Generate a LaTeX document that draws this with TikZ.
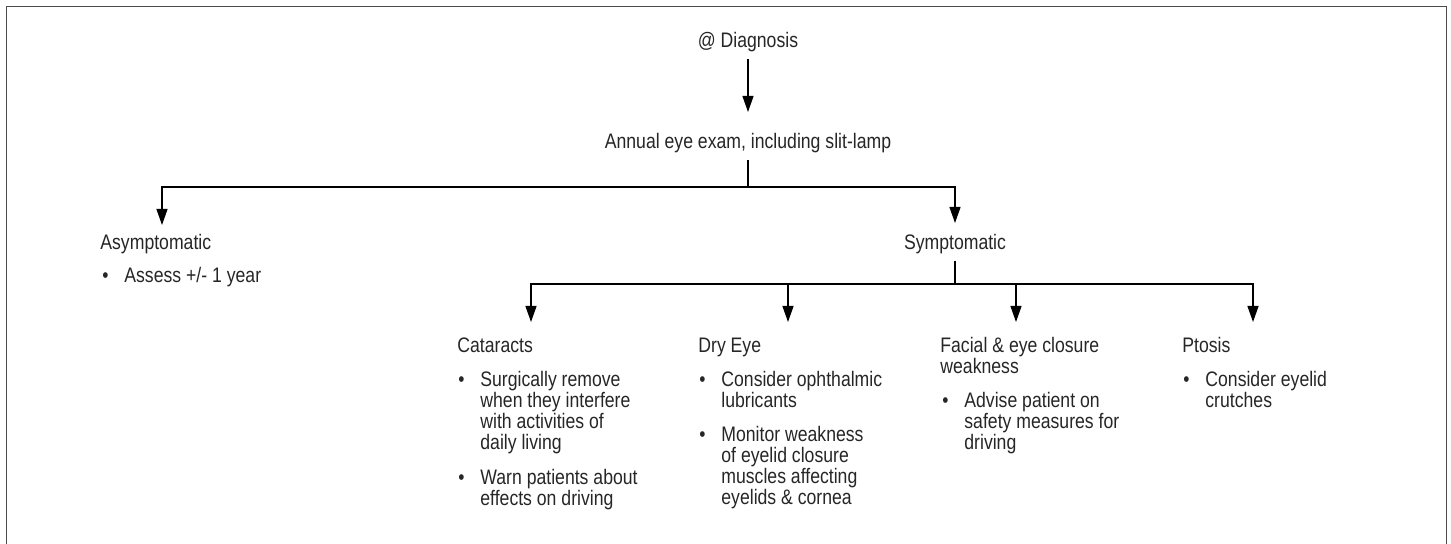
\documentclass[tikz,border=0pt]{standalone}
\usepackage{fontspec}
\setmainfont{Liberation Sans}[FakeStretch=0.84]
\usetikzlibrary{arrows.meta,positioning}
\newcommand{\dotmark}{\llap{\makebox[11pt][l]{\textbullet}}}

\begin{document}
\begin{tikzpicture}[x=0.5pt,y=-0.5pt]
      \tikzstyle{txt}=[inner xsep=0pt, inner ysep=3pt, align=left, anchor=base west, font=\fontsize{10.5}{10.5}\selectfont, text=black!85];
      \tikzstyle{con}=[line width=0.6pt, -{Triangle[length=8pt,width=5.5pt]}];
      \tikzstyle{ln}=[line width=0.6pt];

      \useasboundingbox (0,0) rectangle (1451,544);
      \draw [line width=0.8pt, black!70] (6.5,544) -- (6.5,6.5) -- (1446.5,6.5) -- (1446.5,544);

      % base of a block = baseline of its last line
      \node (diag) at (748,48)[txt, anchor=base]{@ Diagnosis};
      \node (exam) at (748,149)[txt, anchor=base]{Annual eye exam, including slit-lamp};
      \node (asym) at (100,250)[txt]{Asymptomatic};
      \node (asym1) at (124,283)[txt]{\dotmark Assess +/- 1 year};
      \node (sym) at (955,250)[txt, anchor=base]{Symptomatic};

      \node (cat) at (457,353)[txt]{Cataracts};
      \node (cat1) at (480,450)[txt]{\dotmark Surgically remove\\when they interfere\\with activities of\\daily living};
      \node (cat2) at (480,506)[txt]{\dotmark Warn patients about\\effects on driving};
      \node (dry) at (698,353)[txt]{Dry Eye};
      \node (dry1) at (721,408)[txt]{\dotmark Consider ophthalmic\\lubricants};
      \node (dry2) at (721,505)[txt]{\dotmark Monitor weakness\\of eyelid closure\\muscles affecting\\eyelids \& cornea};
      \node (fac) at (940,374)[txt]{Facial \& eye closure\\weakness};
      \node (fac1) at (964,450)[txt]{\dotmark Advise patient on\\safety measures for\\driving};
      \node (pto) at (1182,353)[txt]{Ptosis};
      \node (pto1) at (1205,408)[txt]{\dotmark Consider eyelid\\crutches};

      \coordinate (examtip) at (748,112);
      \coordinate (j1) at (748,187);
      \coordinate (asymtip) at (162,225);
      \coordinate (symtip) at (955,223);
      \coordinate (j2) at (955,284);
      \coordinate (cattip) at (531,322);
      \coordinate (drytip) at (788,322);
      \coordinate (factip) at (1016,322);
      \coordinate (ptotip) at (1253,322);

      \draw [con] (diag) -- (examtip);
      \draw [ln] (exam) -- (j1);
      \draw [con] (j1) -| (asymtip);
      \draw [con] (j1) -| (symtip);

      \draw [ln] (sym) -- (j2);
      \draw [con] (j2) -| (cattip);
      \draw [con] (j2) -| (drytip);
      \draw [con] (j2) -| (factip);
      \draw [con] (j2) -| (ptotip);

    \end{tikzpicture}
\end{document}
